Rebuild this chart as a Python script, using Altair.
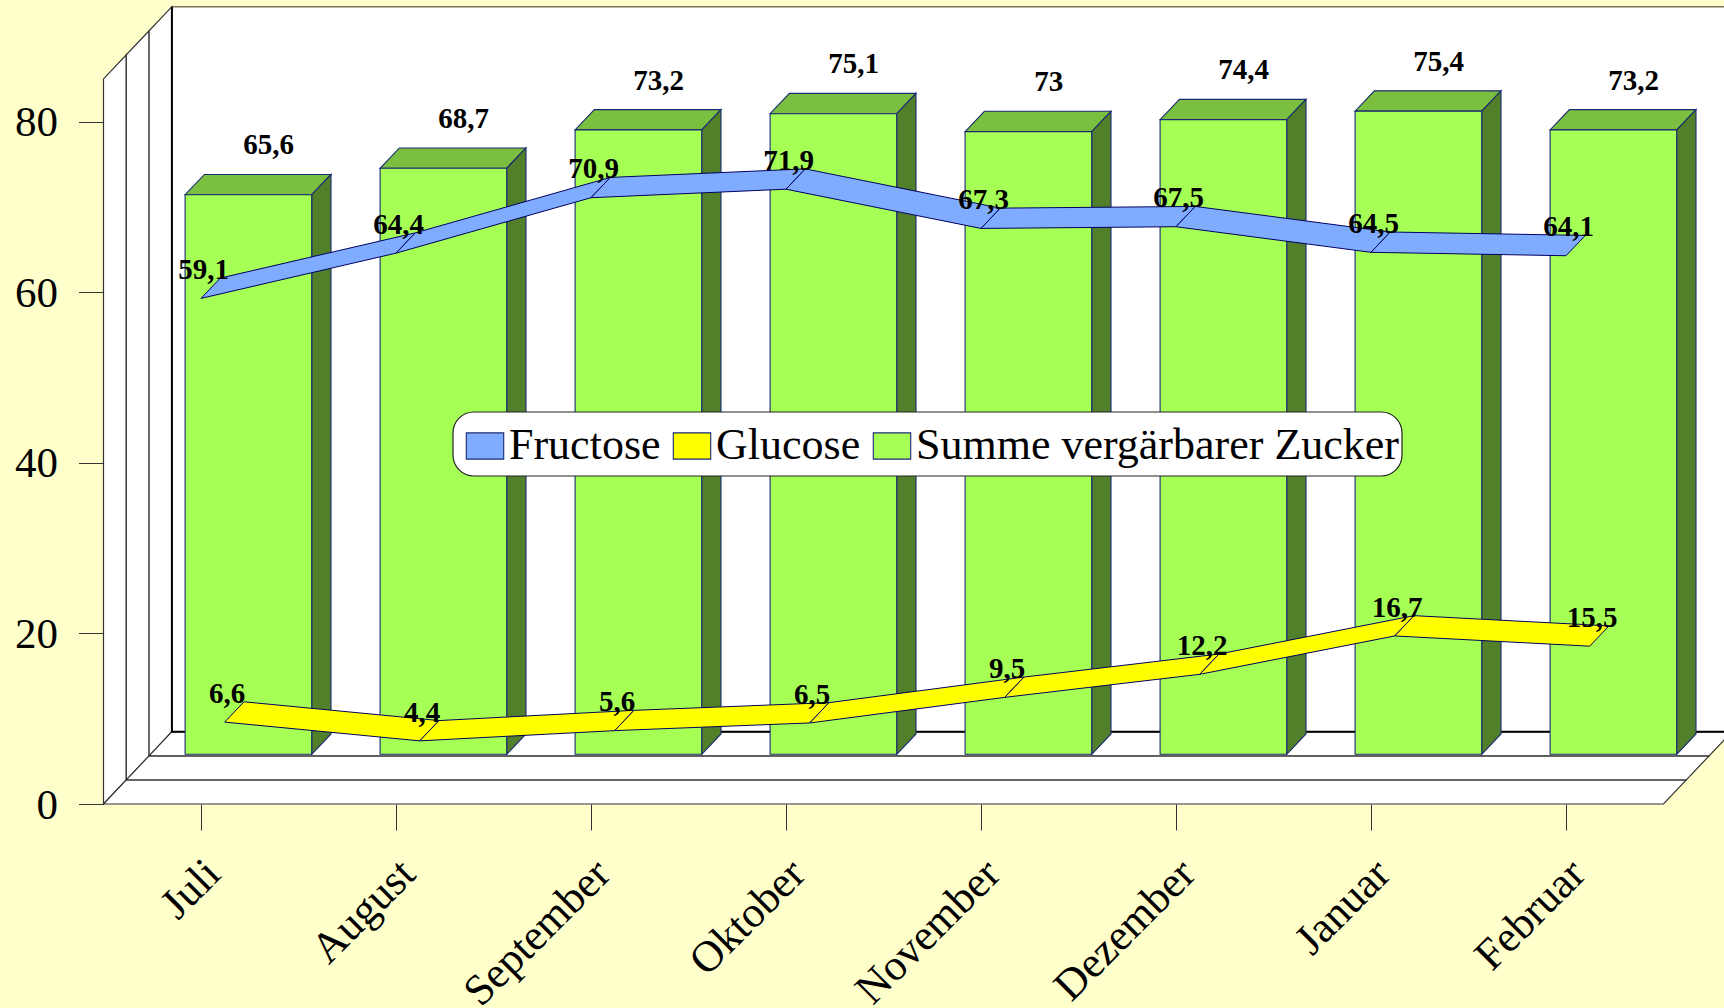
import altair as alt
import pandas as pd

months = ["Juli", "August", "September", "Oktober", "November", "Dezember", "Januar", "Februar"]
fructose = [59.1, 64.4, 70.9, 71.9, 67.3, 67.5, 64.5, 64.1]
glucose = [6.6, 4.4, 5.6, 6.5, 9.5, 12.2, 16.7, 15.5]
total = [65.6, 68.7, 73.2, 75.1, 73.0, 74.4, 75.4, 73.2]
series_names = ["Fructose", "Glucose", "Summe vergärbarer Zucker"]
series_colors = ["#80ACFF", "#FFFF00", "#A6FF55"]

# Scale factors of the plot: one category step and one value unit in screen pixels.
STEP = 195.0
UNIT = 8.53
W, H = 1724, 1008
X0, Y0 = 201.0, 804.0

x_scale = alt.Scale(domain=[-X0 / STEP, (W - X0) / STEP], range=[0, W], nice=False, zero=False)
y_scale = alt.Scale(domain=[(Y0 - H) / UNIT, Y0 / UNIT], range=[H, 0], nice=False, zero=False)
x_plain = alt.X("x:Q", scale=x_scale, title=None)
y_plain = alt.Y("y:Q", scale=y_scale, title=None)

# Oblique projection: each depth row shifts right and upward.
ROW_DX = 23.7 / STEP
ROW_DY = 24.1 / UNIT
DEPTH_DX = 19.3 / STEP
DEPTH_DY = 20.3 / UNIT
LIFT = 1.5 / UNIT
BAR_W = 126.6 / STEP
WALL_TOP = 85.0
BOX_L = -0.5
BOX_R = 7.5
BOX_DX = 22.8 / STEP


def polys(rows):
    """Flatten polygons into rows with a group id and a vertex order."""
    out = []
    for k, (fill, stroke, sw, pts) in enumerate(rows):
        for j, (x, y) in enumerate(pts):
            out.append(dict(poly=k, ord=j, x=x, y=y, fill=fill, stroke=stroke, sw=sw))
    return pd.DataFrame(out)


def poly_layer(rows):
    df = polys(rows)
    return alt.Chart(df).mark_line(interpolate="linear-closed", clip=True).encode(
        x=x_plain,
        y=y_plain,
        order="ord:Q",
        detail="poly:N",
        fill=alt.Fill("fill:N", scale=None),
        stroke=alt.Stroke("stroke:N", scale=None),
        strokeWidth=alt.StrokeWidth("sw:Q", scale=None),
    )


# Walls and floor of the box, three strips deep.
box = []
for r in range(3):
    a, b = r * BOX_DX, (r + 1) * BOX_DX
    ya, yb = r * ROW_DY, (r + 1) * ROW_DY
    box.append(("#FFFFFF", "#333333", 1.2, [(BOX_L + a, ya), (BOX_L + b, yb), (BOX_L + b, WALL_TOP + yb), (BOX_L + a, WALL_TOP + ya)]))
for r in range(3):
    a, b = r * BOX_DX, (r + 1) * BOX_DX
    ya, yb = r * ROW_DY, (r + 1) * ROW_DY
    box.append(("#FFFFFF", "#333333", 1.2, [(BOX_L + a, ya), (BOX_L + b, yb), (BOX_R + b, yb), (BOX_R + a, ya)]))
back_dx, back_dy = 3 * BOX_DX, 3 * ROW_DY
box.append(("#FFFFFF", "#777755", 1.5, [(BOX_L + back_dx, back_dy), (BOX_R + back_dx, back_dy), (BOX_R + back_dx, WALL_TOP + back_dy), (BOX_L + back_dx, WALL_TOP + back_dy)]))
walls = poly_layer(box)

# Heavier corner line where the back wall meets the side wall and the floor.
corner = pd.DataFrame({
    "x": [BOX_L + back_dx, BOX_L + back_dx, BOX_R + back_dx],
    "y": [WALL_TOP + back_dy, back_dy, back_dy],
    "ord": [0, 1, 2],
})
corner_line = alt.Chart(corner).mark_line(color="#000000", strokeWidth=2, clip=True).encode(
    x=x_plain,
    y=y_plain,
    order="ord:Q",
)

# Column faces: top and side first, then the fronts.
bar_left = 2 * ROW_DX - BAR_W / 2
bar_base = 2 * ROW_DY + LIFT
faces = []
fronts = []
for i, v in enumerate(total):
    xl, xr = i + bar_left, i + bar_left + BAR_W
    yb, yt = bar_base, bar_base + v
    faces.append(("#7ABF3F", "#1A2A70", 1.1, [(xl, yt), (xr, yt), (xr + DEPTH_DX, yt + DEPTH_DY), (xl + DEPTH_DX, yt + DEPTH_DY)]))
    faces.append(("#527F2A", "#1A2A70", 1.1, [(xr, yb), (xr + DEPTH_DX, yb + DEPTH_DY), (xr + DEPTH_DX, yt + DEPTH_DY), (xr, yt)]))
    fronts.append(("#A6FF55", "#1A2A70", 1.1, [(xl, yb), (xr, yb), (xr, yt), (xl, yt)]))
bar_faces = poly_layer(faces)
bar_fronts = poly_layer(fronts)


def ribbon_rows(values, row, color):
    """Parallelogram segments of a line series on the given depth row."""
    dx = row * ROW_DX
    lift = row * ROW_DY + LIFT
    rows = []
    for i in range(len(values) - 1):
        a, b = values[i], values[i + 1]
        rows.append((color, "#000060", 1.0, [
            (i + dx, a + lift),
            (i + 1 + dx, b + lift),
            (i + 1 + dx + DEPTH_DX, b + lift + DEPTH_DY),
            (i + dx + DEPTH_DX, a + lift + DEPTH_DY),
        ]))
    return rows


glucose_band = poly_layer(ribbon_rows(glucose, 1, "#FFFF00"))
fructose_band = poly_layer(ribbon_rows(fructose, 0, "#80ACFF"))


def fmt(v):
    """Decimal comma; whole numbers carry no decimals."""
    s = f"{v:.1f}".replace(".", ",")
    return s[:-2] if s.endswith(",0") else s


# Value labels: columns float clear of the top face, ribbons rest on their rear edge.
BAR_GAP = 20 / UNIT
RIBBON_DROP = 1.0 / UNIT
lab_rows = []
for i, v in enumerate(total):
    lab_rows.append(dict(x=i + 2 * ROW_DX + DEPTH_DX + 1 / STEP, y=v + bar_base + DEPTH_DY + BAR_GAP, t=fmt(v)))
for i, v in enumerate(glucose):
    lab_rows.append(dict(x=i + ROW_DX + 2.5 / STEP, y=v + ROW_DY + LIFT + DEPTH_DY - RIBBON_DROP, t=fmt(v)))
for i, v in enumerate(fructose):
    lab_rows.append(dict(x=i + 2.5 / STEP, y=v + LIFT + DEPTH_DY - RIBBON_DROP, t=fmt(v)))
labels = alt.Chart(pd.DataFrame(lab_rows)).mark_text(
    font="Liberation Serif", fontSize=29, fontWeight="bold", color="#000000", align="center", baseline="alphabetic"
).encode(
    x=x_plain,
    y=y_plain,
    text="t:N",
)

# Axes sit on the front edge of the floor and side wall.
name_expr = "[" + ",".join(f"'{m}'" for m in months) + "][datum.value]"
axis_anchor = pd.DataFrame({"x": [0.0], "y": [0.0]})
axes = alt.Chart(axis_anchor).mark_point(opacity=0).encode(
    x=alt.X("x:Q", scale=x_scale, title=None, axis=alt.Axis(
        orient="bottom", offset=-(H - Y0), domain=False, grid=False,
        values=list(range(len(months))), labelExpr=name_expr, tickSize=26, tickColor="#333333",
        labelAngle=-45, labelAlign="right", labelBaseline="top", labelPadding=22, labelOffset=-3,
        labelFont="Liberation Serif", labelFontSize=43.5, labelColor="#000000",
        labelOverlap=False, labelBound=False, labelFlush=False, labelLimit=1000)),
    y=alt.Y("y:Q", scale=y_scale, title=None, axis=alt.Axis(
        orient="left", offset=-(X0 + BOX_L * STEP), domain=False, grid=False,
        values=[0, 20, 40, 60, 80], tickSize=25, tickColor="#333333", labelPadding=21, labelOffset=1,
        labelFont="Liberation Serif", labelFontSize=43, labelColor="#000000",
        labelOverlap=False, labelBound=False, labelFlush=False)),
)

# White rounded plate behind the legend entries.
legend_plate = alt.Chart(axis_anchor).mark_rect(
    fill="#FFFFFF", stroke="#222222", strokeWidth=1.2, cornerRadius=21
).encode(
    x=alt.value(453), x2=alt.value(1402), y=alt.value(412), y2=alt.value(476)
)

# Invisible swatch carrier that feeds the legend.
legend_df = pd.DataFrame({"series": series_names, "x": [0.0] * 3, "y": [0.0] * 3})
legend_layer = alt.Chart(legend_df).mark_point(filled=True, size=0, opacity=0).encode(
    x=x_plain,
    y=y_plain,
    fill=alt.Fill("series:N", scale=alt.Scale(domain=series_names, range=series_colors), sort=series_names, legend=alt.Legend(
        title=None, orient="none", legendX=463, legendY=424, direction="horizontal", columns=3,
        padding=0, symbolType="M-1,-0.7H1V0.7H-1Z", symbolSize=1400, symbolOpacity=1, symbolStrokeColor="#1A2A70",
        symbolStrokeWidth=1.1, labelFont="Liberation Serif", labelFontSize=44, labelColor="#000000",
        labelOffset=2, columnPadding=9, labelLimit=1000)),
)

chart = alt.layer(
    walls, corner_line, bar_faces, bar_fronts, glucose_band, fructose_band, axes, labels, legend_plate, legend_layer
).resolve_scale(x="shared", y="shared").properties(
    width=W, height=H, padding=0, background="#FFFFCC", autosize=alt.AutoSizeParams(type="none")
).configure_view(stroke=None)

chart.save("out.html", embed_options={"renderer": "svg", "actions": False})
